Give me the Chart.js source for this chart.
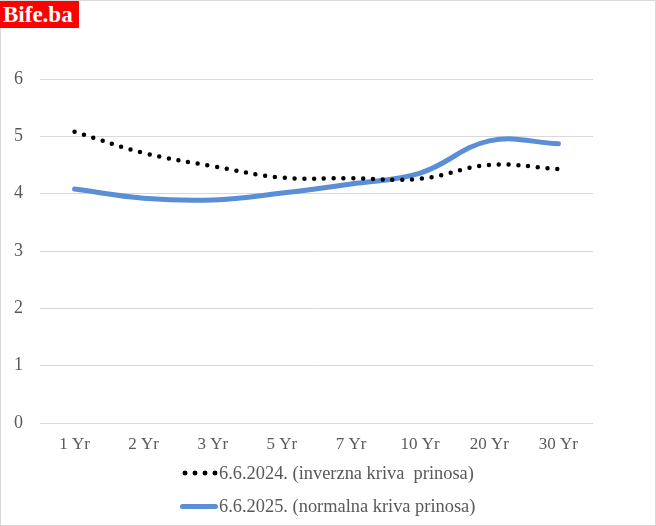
<!DOCTYPE html>
<html>
<head>
<meta charset="utf-8">
<script src="https://cdn.jsdelivr.net/npm/chart.js@4.4.1/dist/chart.umd.min.js"></script>
<style>
    html, body { margin: 0; padding: 0; background: #fff; }
    #wrap {
        position: relative;
        width: 654px;
        height: 524px;
        border: 1px solid #d9d9d9;
        font-family: "Liberation Serif", "Times New Roman", serif;
    }
    #chart { position: absolute; left: -1px; top: -1px; }
    #logo {
        position: absolute; left: -1px; top: 0;
        width: 79px; height: 27px;
        background: #ff0000; color: #fff;
        font-weight: bold; font-size: 23px; line-height: 27px;
        padding-left: 3px; box-sizing: border-box;
    }
    .legend-row {
        position: absolute; left: 179px;
        font-size: 18.4px; color: #595959; white-space: pre;
        height: 22px; line-height: 22px;
    }
    .legend-row .sample {
        display: inline-block; width: 38px; height: 6px;
        vertical-align: middle; margin-right: 1px; margin-top: -3px;
    }
    .dots { background: radial-gradient(circle, #000 2.2px, transparent 2.7px) 0 0 / 10px 6px repeat-x; }
    .solid { background: #5a8ed6; border-radius: 3px; height: 5px !important; }
</style>
</head>
<body>
<div id="wrap">
    <canvas id="chart" width="656" height="526"></canvas>
    <div id="logo">Bife.ba</div>
    <div class="legend-row" style="top:461px"><span class="sample dots"></span>6.6.2024. (inverzna kriva  prinosa)</div>
    <div class="legend-row" style="top:494px"><span class="sample solid"></span>6.6.2025. (normalna kriva prinosa)</div>
</div>
<script>
// maturities and yields
const maturities = ['1 Yr', '2 Yr', '3 Yr', '5 Yr', '7 Yr', '10 Yr', '20 Yr', '30 Yr'];
const yields2024 = [5.08, 4.71, 4.48, 4.28, 4.27, 4.26, 4.50, 4.43];
const yields2025 = [4.08, 3.92, 3.89, 4.01, 4.17, 4.36, 4.92, 4.87];
const yTicks = [0, 1, 2, 3, 4, 5, 6];

const labelFont = { family: '"Liberation Serif", "Times New Roman", serif', size: 17 };

new Chart(document.getElementById('chart').getContext('2d'), {
    type: 'line',
    data: {
        labels: maturities,
        datasets: [{
            label: '6.6.2024. (inverzna kriva  prinosa)',
            data: yields2024,
            borderColor: '#000',
            borderWidth: 4.5,
            borderDash: [0, 9.8],
            borderCapStyle: 'round',
            pointRadius: 0,
            tension: 0.4
        }, {
            label: '6.6.2025. (normalna kriva prinosa)',
            data: yields2025,
            borderColor: '#5a8ed6',
            borderWidth: 5,
            borderCapStyle: 'round',
            pointRadius: 0,
            tension: 0.4
        }]
    },
    options: {
        responsive: false,
        animation: false,
        layout: { padding: { top: 79, right: 63, bottom: 70, left: 0 } },
        plugins: {
            legend: { display: false },
            tooltip: { enabled: false }
        },
        scales: {
            x: {
                offset: true,
                grid: { display: false, drawTicks: false },
                border: { display: false },
                ticks: { color: '#595959', font: labelFont, padding: 11, maxRotation: 0 },
                afterFit: (s) => { s.height = 33; }
            },
            y: {
                min: 0,
                max: 6,
                grid: { color: '#d9d9d9', lineWidth: 1, drawTicks: false },
                border: { display: false },
                afterBuildTicks: (s) => { s.ticks = yTicks.map(v => ({ value: v })); },
                ticks: { color: '#595959', font: { family: labelFont.family, size: 18 }, padding: 17 },
                afterFit: (s) => { s.width = 40; }
            }
        }
    }
});
</script>
</body>
</html>
